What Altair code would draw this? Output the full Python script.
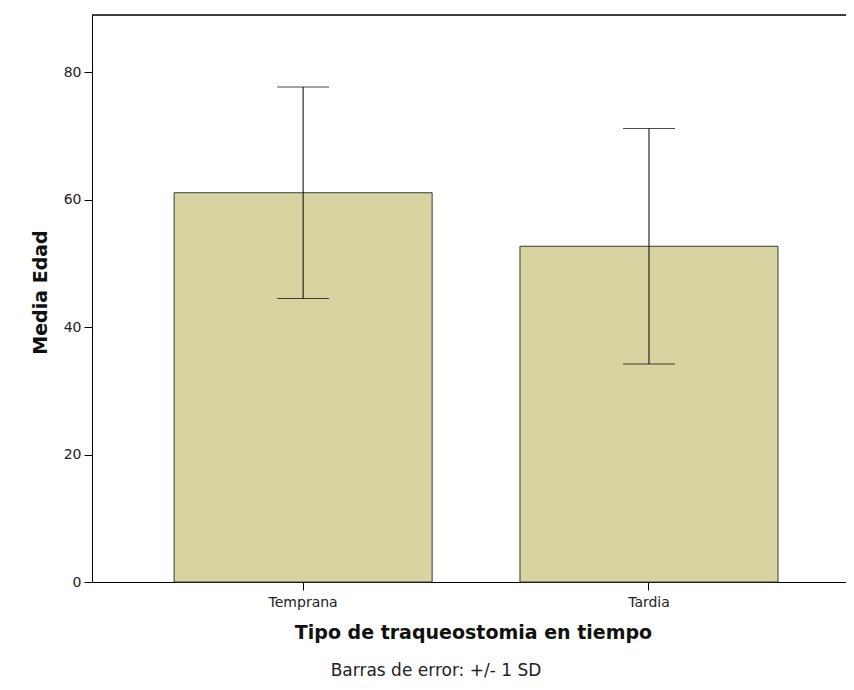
import altair as alt
import pandas as pd

categories = ["Temprana", "Tardia"]
means = [61.1, 52.7]
sds = [16.6, 18.5]
y_ticks = [0, 20, 40, 60, 80]
y_max = 89

df = pd.DataFrame({
    "tipo": categories,
    "media": means,
    "low": [m - s for m, s in zip(means, sds)],
    "high": [m + s for m, s in zip(means, sds)],
})

FONT = "DejaVu Sans"

x_enc = alt.X(
    "tipo:N",
    sort=categories,
    scale=alt.Scale(paddingInner=0.254, paddingOuter=0.217, align=0.547),
    axis=alt.Axis(
        title="Tipo de traqueostomia en tiempo",
        labelAngle=0,
        labelFontSize=14,
        labelFont=FONT,
        labelColor="#222222",
        labelBaseline="alphabetic",
        labelPadding=16,
        tickSize=8,
        tickColor="#000000",
        domainColor="#000000",
        titleFont=FONT,
        titleFontSize=19,
        titleFontWeight="bold",
        titleColor="#111111",
        titleX=381,
        titleY=56,
        titleBaseline="alphabetic",
        titleAlign="center",
    ),
)

y_scale = alt.Scale(domain=[0, y_max], nice=False, zero=True)

bars = alt.Chart(df).mark_bar(
    color="#D8D4A1", stroke="#3a3a32", strokeWidth=1
).encode(
    x=x_enc,
    y=alt.Y(
        "media:Q",
        scale=y_scale,
        axis=alt.Axis(
            title="Media Edad",
            values=y_ticks,
            grid=False,
            labelFontSize=14,
            labelFont=FONT,
            labelColor="#222222",
            labelPadding=3,
            tickSize=8,
            tickColor="#000000",
            domainColor="#000000",
            titleFont=FONT,
            titleFontSize=19,
            titleFontWeight="bold",
            titleColor="#111111",
            titleAngle=270,
            titleX=-52,
            titleY=277,
            titleBaseline="middle",
            titleAlign="center",
        ),
    ),
)

err = alt.Chart(df).mark_rule(color="#000000", strokeWidth=1).encode(
    x=alt.X("tipo:N", sort=categories),
    y=alt.Y("low:Q", scale=y_scale),
    y2="high:Q",
)

cap_hi = alt.Chart(df).mark_tick(color="#000000", thickness=1, size=52).encode(
    x=alt.X("tipo:N", sort=categories),
    y=alt.Y("high:Q", scale=y_scale),
)
cap_lo = alt.Chart(df).mark_tick(color="#000000", thickness=1, size=52).encode(
    x=alt.X("tipo:N", sort=categories),
    y=alt.Y("low:Q", scale=y_scale),
)

top_line = alt.Chart(pd.DataFrame({"v": [y_max]})).mark_rule(
    color="#000000", strokeWidth=1.5
).encode(y=alt.Y("v:Q", scale=y_scale))

chart = alt.layer(bars, err, cap_hi, cap_lo, top_line).properties(
    width=754,
    height=567,
    autosize=alt.AutoSizeParams(type="none"),
    padding={"left": 84, "top": 7, "right": 0, "bottom": 99},
    title=alt.TitleParams(
        "Barras de error: +/- 1 SD",
        orient="bottom",
        anchor="middle",
        dx=-33,
        offset=21,
        font=FONT,
        fontSize=17,
        fontWeight="normal",
        color="#222222",
    ),
).configure_view(
    fill="#F0F1F2", stroke=None
).configure(background="#ffffff")

chart.save("out.html", embed_options={"renderer": "svg", "actions": False})
